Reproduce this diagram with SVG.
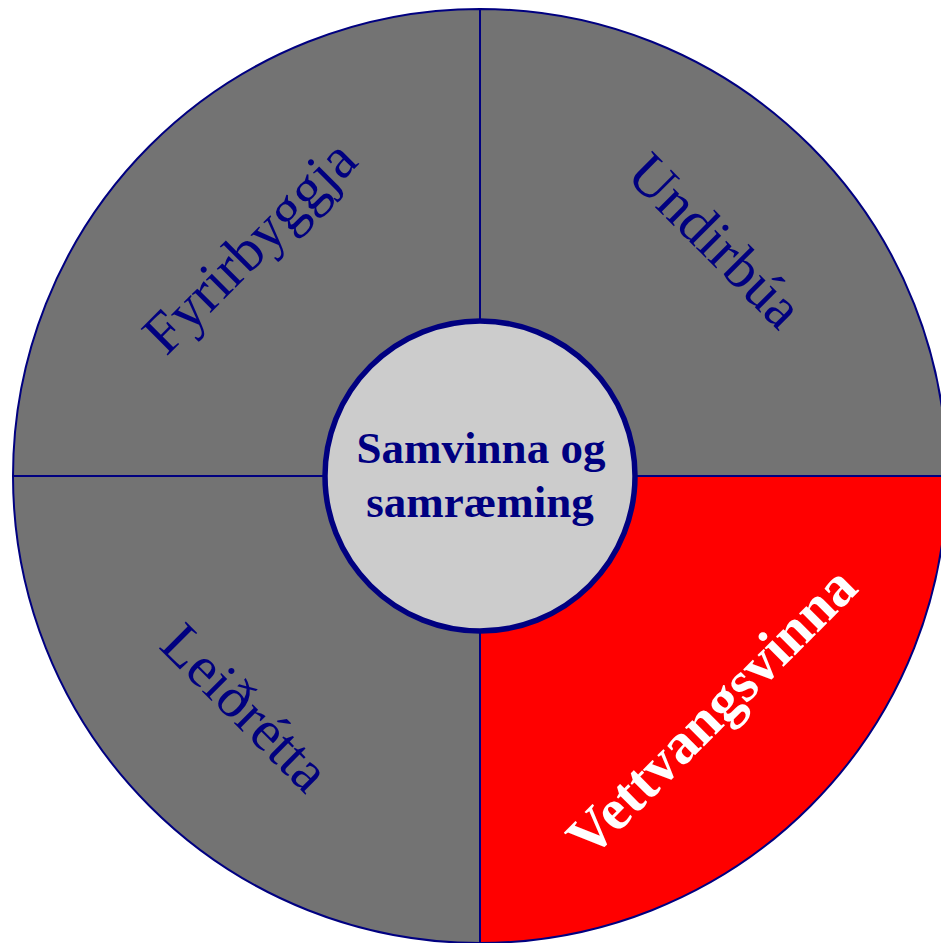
<svg xmlns="http://www.w3.org/2000/svg" width="941" height="943" viewBox="0 0 941 943">
<style>
.slice{fill:#737373;stroke:#000080;stroke-width:2}
.red{fill:#ff0000}
.lbl{font-family:"Liberation Serif","Times New Roman",serif;font-size:58px;fill:#000080;text-anchor:middle}
.lblw{font-family:"Liberation Serif","Times New Roman",serif;font-size:58px;font-weight:bold;fill:#ffffff;text-anchor:middle}
.ctr{font-family:"Liberation Serif","Times New Roman",serif;font-size:45px;font-weight:bold;fill:#000080;text-anchor:middle}
</style>
<rect width="941" height="943" fill="#ffffff"/>
<g id="fyrirbyggja">
<path class="slice" d="M480,476 L13,476 A467,467 0 0 1 480,9 Z"/>
<text class="lbl" transform="translate(249,246) rotate(-45)" y="20">Fyrirbyggja</text>
</g>
<g id="undirbua">
<path class="slice" d="M480,476 L480,9 A467,467 0 0 1 947,476 Z"/>
<text class="lbl" transform="translate(716,240) rotate(45)" y="20">Undirbúa</text>
</g>
<g id="vettvangsvinna">
<path class="slice red" d="M480,476 L947,476 A467,467 0 0 1 480,943 Z"/>
<text class="lblw" transform="translate(711,711) rotate(-45)" y="20">Vettvangsvinna</text>
</g>
<g id="leidretta">
<path class="slice" d="M480,476 L480,943 A467,467 0 0 1 13,476 Z"/>
<text class="lbl" transform="translate(246,707) rotate(45)" y="20">Leiðrétta</text>
</g>
<g id="connectors"></g>
<g id="center">
<circle cx="480" cy="476" r="155" fill="#cccccc" stroke="#000080" stroke-width="5.5"/>
<text class="ctr" x="481" y="463">Samvinna og</text>
<text class="ctr" x="480" y="517">samræming</text>
</g>
</svg>
